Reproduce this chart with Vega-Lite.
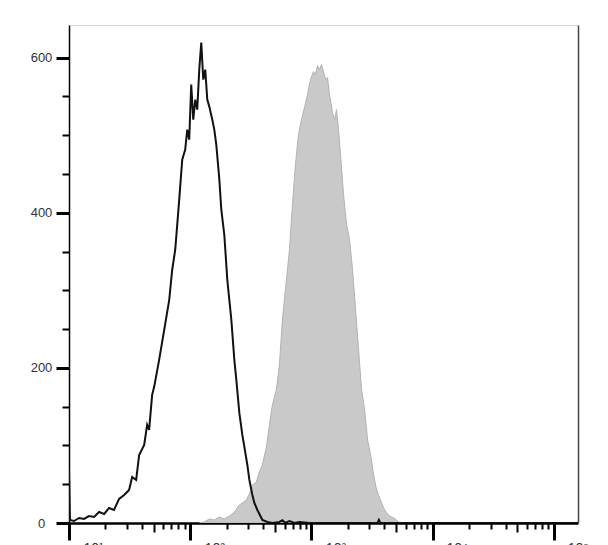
{
  "$schema": "https://vega.github.io/schema/vega-lite/v6.json",
  "width": 509,
  "height": 498,
  "autosize": {"type": "none"},
  "padding": {"left": 69, "top": 25, "right": 30, "bottom": 22},
  "background": "white",
  "config": {"view": {"stroke": null}},
  "layer": [
    {
      "data": {"values": [
        {"x":118.7,"count":0},{"x":130.5,"count":1.3},{"x":143.6,"count":5.2},{"x":157.9,"count":3.9},{"x":173.6,"count":7.7},{"x":191.0,"count":5.2},{"x":210.1,"count":9.0},{"x":231.1,"count":14.2},{"x":254.1,"count":23.2},{"x":269.0,"count":25.8},{"x":290.3,"count":29.7},{"x":307.4,"count":37.4},{"x":325.5,"count":49.0},{"x":351.2,"count":52.9},{"x":371.8,"count":65.8},{"x":393.6,"count":74.8},{"x":424.9,"count":98.1},{"x":449.8,"count":126.5},{"x":476.1,"count":152.3},{"x":513.7,"count":171.6},{"x":543.9,"count":203.9},{"x":575.9,"count":261.9},{"x":609.8,"count":300.6},{"x":658.0,"count":352.3},{"x":696.6,"count":410.3},{"x":737.6,"count":461.9},{"x":781.0,"count":500.6},{"x":826.9,"count":520.0},{"x":875.6,"count":535.5},{"x":926.6,"count":552.3},{"x":981.1,"count":571.6},{"x":1039,"count":581.9},{"x":1079,"count":578.1},{"x":1121,"count":589.7},{"x":1165,"count":584.5},{"x":1209,"count":591.0},{"x":1257,"count":581.9},{"x":1305,"count":571.6},{"x":1356,"count":574.2},{"x":1408,"count":552.3},{"x":1491,"count":529.0},{"x":1549,"count":520.0},{"x":1609,"count":532.9},{"x":1672,"count":507.1},{"x":1736,"count":474.8},{"x":1839,"count":423.2},{"x":1947,"count":384.5},{"x":2061,"count":365.2},{"x":2183,"count":326.5},{"x":2311,"count":274.8},{"x":2447,"count":223.2},{"x":2590,"count":171.6},{"x":2742,"count":145.8},{"x":2903,"count":107.1},{"x":3074,"count":87.7},{"x":3254,"count":61.9},{"x":3445,"count":42.6},{"x":3648,"count":32.3},{"x":3936,"count":19.4},{"x":4167,"count":12.9},{"x":4412,"count":9.0},{"x":4761,"count":6.5},{"x":5040,"count":3.9},{"x":5337,"count":0},{"x":5869,"count":0}
      ]},
      "mark": {"type": "area", "color": "#c9c9c9", "stroke": "#b2b2b2", "strokeWidth": 1, "clip": true},
      "encoding": {
        "x": {
          "field": "x", "type": "quantitative",
          "scale": {"type": "log", "domain": [10, 157900], "nice": false},
          "axis": {
            "orient": "bottom",
            "title": null,
            "grid": false,
            "values": [10,20,30,40,50,60,70,80,90,100,200,300,400,500,600,700,800,900,1000,2000,3000,4000,5000,6000,7000,8000,9000,10000,20000,30000,40000,50000,60000,70000,80000,90000,100000],
            "tickSize": {"condition": [{"test": "indexof([10,100,1000,10000,100000], datum.value) >= 0", "value": 17}, {"test": "indexof([50,500,5000,50000], datum.value) >= 0", "value": 9}], "value": 6},
            "tickWidth": {"condition": {"test": "indexof([10,100,1000,10000,100000], datum.value) >= 0", "value": 3}, "value": 2},
            "tickColor": "#000",
            "domainColor": "#000",
            "domainWidth": 2.5,
            "labelExpr": "datum.value == 10 ? '10¹' : datum.value == 100 ? '10²' : datum.value == 1000 ? '10³' : datum.value == 10000 ? '10⁴' : datum.value == 100000 ? '10⁵' : ''",
            "labelPadding": 1,
            "labelFontSize": 14,
            "labelFont": "Liberation Sans",
            "labelColor": "#333",
            "labelBaseline": "top",
            "labelOffset": 24,
            "labelOverlap": false,
            "labelFlush": false,
            "labelBound": false
          }
        },
        "y": {
          "field": "count", "type": "quantitative",
          "scale": {"domain": [0, 642], "nice": false},
          "axis": {
            "orient": "left",
            "title": null,
            "grid": false,
            "values": [0,50,100,150,200,250,300,350,400,450,500,550,600],
            "tickSize": {"condition": {"test": "datum.value % 200 == 0", "value": 13}, "value": 7},
            "tickWidth": {"condition": {"test": "datum.value % 200 == 0", "value": 3}, "value": 2},
            "tickColor": "#000",
            "domainColor": "#000",
            "domainWidth": 1.5,
            "labelExpr": "datum.value % 200 == 0 ? datum.label : ''",
            "labelAlign": "center",
            "labelBaseline": "middle",
            "labelPadding": 15,
            "labelFontSize": 13,
            "labelFont": "Liberation Sans",
            "labelColor": "#333",
            "labelOverlap": false,
            "labelFlush": false
          }
        }
      }
    },
    {
      "data": {"values": [
        {"x":10,"count":68.4},{"x":10.19,"count":3.9},{"x":11.0,"count":2.6},{"x":12.1,"count":6.5},{"x":13.3,"count":5.2},{"x":14.6,"count":9.0},{"x":16.1,"count":7.7},{"x":17.7,"count":14.2},{"x":19.5,"count":11.6},{"x":21.4,"count":19.4},{"x":23.5,"count":16.8},{"x":25.9,"count":31.0},{"x":28.5,"count":36.1},{"x":31.3,"count":42.6},{"x":33.2,"count":59.4},{"x":35.8,"count":55.5},{"x":37.9,"count":87.7},{"x":41.7,"count":100.6},{"x":44.1,"count":126.5},{"x":45.8,"count":120.0},{"x":48.5,"count":165.2},{"x":50.4,"count":175.5},{"x":55.4,"count":210.3},{"x":61.0,"count":249.0},{"x":67.1,"count":287.7},{"x":71.0,"count":326.5},{"x":75.2,"count":352.3},{"x":78.1,"count":384.5},{"x":81.1,"count":416.8},{"x":85.9,"count":468.4},{"x":90.9,"count":481.3},{"x":94.5,"count":507.1},{"x":98.1,"count":494.2},{"x":101.9,"count":565.2},{"x":105.9,"count":520.0},{"x":110.0,"count":545.8},{"x":114.2,"count":532.9},{"x":118.7,"count":584.5},{"x":123.3,"count":619.4},{"x":128.1,"count":571.6},{"x":133.0,"count":584.5},{"x":138.2,"count":545.8},{"x":143.6,"count":536.8},{"x":152.0,"count":520.0},{"x":157.9,"count":507.1},{"x":164.0,"count":487.7},{"x":173.6,"count":443.9},{"x":180.4,"count":403.9},{"x":191.0,"count":371.6},{"x":202.2,"count":313.5},{"x":210.1,"count":287.7},{"x":218.3,"count":261.9},{"x":231.1,"count":210.3},{"x":240.0,"count":184.5},{"x":254.1,"count":141.9},{"x":269.0,"count":113.5},{"x":279.5,"count":98.1},{"x":295.9,"count":74.8},{"x":307.4,"count":55.5},{"x":325.5,"count":36.1},{"x":338.1,"count":25.8},{"x":357.9,"count":16.8},{"x":393.6,"count":3.9},{"x":433.0,"count":1.3},{"x":476.2,"count":0},{"x":543.9,"count":1.3},{"x":575.9,"count":3.5},{"x":609.8,"count":0},{"x":658.0,"count":2.6},{"x":723.6,"count":0},{"x":796.0,"count":1.3},{"x":962.7,"count":0},{"x":3500,"count":0},{"x":3600,"count":4},{"x":3700,"count":0},{"x":157900,"count":0}
      ]},
      "mark": {"type": "line", "color": "#111111", "strokeWidth": 2, "clip": true},
      "encoding": {
        "x": {
          "field": "x", "type": "quantitative",
          "scale": {"type": "log", "domain": [10, 157900], "nice": false},
          "axis": {"orient": "top", "title": null, "grid": false, "ticks": false, "labels": false, "domainColor": "#d6d6d6", "domainWidth": 1}
        },
        "y": {
          "field": "count", "type": "quantitative",
          "scale": {"domain": [0, 642], "nice": false},
          "axis": {"orient": "right", "title": null, "grid": false, "ticks": false, "labels": false, "domainColor": "#444", "domainWidth": 1.5}
        }
      }
    }
  ],
  "resolve": {"axis": {"x": "independent", "y": "independent"}}
}
